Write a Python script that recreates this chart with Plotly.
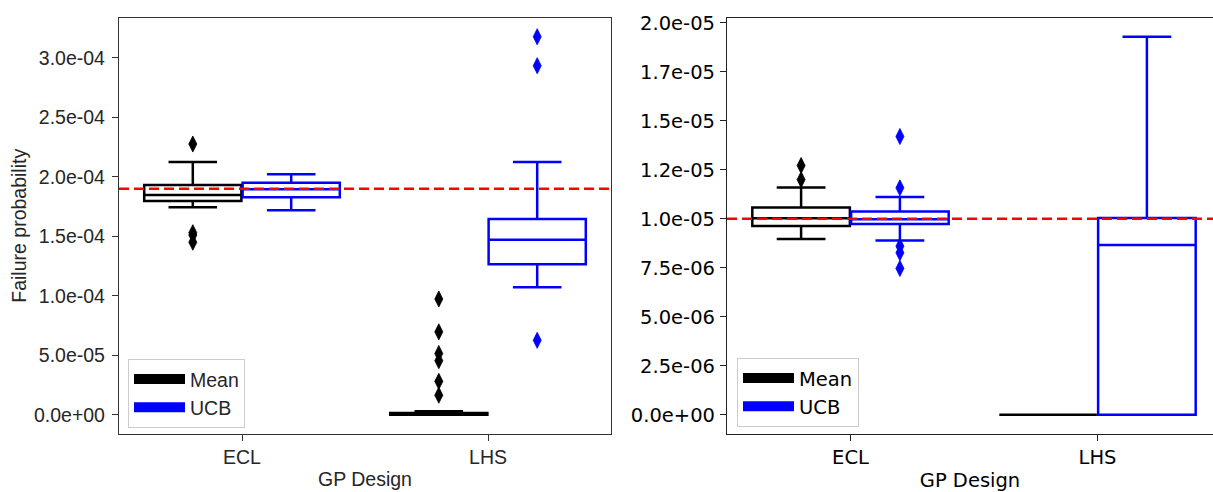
import plotly.graph_objects as go

# ---------------- data ----------------
designs = ["ECL", "LHS"]
methods = ["Mean", "UCB"]

# Left panel (failure probability ~1.9e-4)
left_mean_q1 = [1.797e-4, 0.0]
left_mean_median = [1.847e-4, 3.0e-7]
left_mean_q3 = [1.930e-4, 1.6e-6]
left_mean_lower = [1.743e-4, 0.0]
left_mean_upper = [2.123e-4, 2.9e-6]
left_mean_out_ecl = [2.275e-4, 1.530e-4, 1.510e-4, 1.450e-4]
left_mean_out_lhs = [9.73e-5, 6.97e-5, 5.15e-5, 4.55e-5, 2.81e-5, 1.65e-5]

left_ucb_q1 = [1.828e-4, 1.265e-4]
left_ucb_median = [1.896e-4, 1.470e-4]
left_ucb_q3 = [1.949e-4, 1.646e-4]
left_ucb_lower = [1.718e-4, 1.072e-4]
left_ucb_upper = [2.020e-4, 2.123e-4]
left_ucb_out_ecl = []
left_ucb_out_lhs = [3.176e-4, 2.933e-4, 6.26e-5]

left_ref = 1.9e-4
left_ticks = [0.0, 5e-5, 1e-4, 1.5e-4, 2e-4, 2.5e-4, 3e-4]
left_ticktext = ["0.0e+00", "5.0e-05", "1.0e-04", "1.5e-04", "2.0e-04", "2.5e-04", "3.0e-04"]

# Right panel (failure probability ~1e-5)
right_mean_q1 = [9.64e-6, 0.0]
right_mean_median = [1.003e-5, 0.0]
right_mean_q3 = [1.058e-5, 0.0]
right_mean_lower = [8.97e-6, 0.0]
right_mean_upper = [1.160e-5, 0.0]
right_mean_out_ecl = [1.272e-5, 1.200e-5]
right_mean_out_lhs = []

right_ucb_q1 = [9.74e-6, 0.0]
right_ucb_median = [9.98e-6, 8.67e-6]
right_ucb_q3 = [1.037e-5, 1.004e-5]
right_ucb_lower = [8.90e-6, 0.0]
right_ucb_upper = [1.112e-5, 1.929e-5]
right_ucb_out_ecl = [1.420e-5, 1.158e-5, 8.60e-6, 8.27e-6, 7.47e-6]
right_ucb_out_lhs = []

right_ref = 1.0e-5
right_ticks = [0.0, 2.5e-6, 5e-6, 7.5e-6, 1e-5, 1.25e-5, 1.5e-5, 1.75e-5, 2e-5]
right_ticktext = ["0.0e+00", "2.5e-06", "5.0e-06", "7.5e-06", "1.0e-05",
                  "1.2e-05", "1.5e-05", "1.7e-05", "2.0e-05"]

# ---------------- styling ----------------
colors = {"Mean": "#000000", "UCB": "#0000ff"}
offsets = {"Mean": -0.2, "UCB": 0.2}
BOX_W = 0.395
LW = 2.5
FS = 19.5

fig = go.Figure()

panels = [
    ("x", "y", "legend", {
        "Mean": (left_mean_q1, left_mean_median, left_mean_q3, left_mean_lower, left_mean_upper,
                 [left_mean_out_ecl, left_mean_out_lhs]),
        "UCB": (left_ucb_q1, left_ucb_median, left_ucb_q3, left_ucb_lower, left_ucb_upper,
                [left_ucb_out_ecl, left_ucb_out_lhs]),
    }),
    ("x2", "y2", "legend2", {
        "Mean": (right_mean_q1, right_mean_median, right_mean_q3, right_mean_lower, right_mean_upper,
                 [right_mean_out_ecl, right_mean_out_lhs]),
        "UCB": (right_ucb_q1, right_ucb_median, right_ucb_q3, right_ucb_lower, right_ucb_upper,
                [right_ucb_out_ecl, right_ucb_out_lhs]),
    }),
]

for xa, ya, lg, stats in panels:
    for m in methods:
        q1, med, q3, lo, hi, outs = stats[m]
        pos = [i + offsets[m] for i in range(len(designs))]
        fig.add_trace(go.Box(
            x=pos, q1=q1, median=med, q3=q3, lowerfence=lo, upperfence=hi,
            width=BOX_W, whiskerwidth=0.5, boxpoints=False,
            line=dict(color=colors[m], width=LW), fillcolor="rgba(255,255,255,0)",
            xaxis=xa, yaxis=ya, showlegend=False, hoverinfo="skip",
        ))
        ox, oy = [], []
        for i, vals in enumerate(outs):
            for v in vals:
                ox.append(i + offsets[m])
                oy.append(v)
        fig.add_trace(go.Scatter(
            x=ox, y=oy, mode="markers",
            marker=dict(symbol="diamond-tall", size=11.5, color=colors[m],
                        line=dict(width=0.8, color=colors[m])),
            xaxis=xa, yaxis=ya, showlegend=False, hoverinfo="skip",
        ))
        # legend entry
        fig.add_trace(go.Scatter(
            x=[None], y=[None], mode="lines", name=m,
            line=dict(color=colors[m], width=15),
            xaxis=xa, yaxis=ya, showlegend=True, legend=lg,
        ))

W, H = 1213, 492
y_dom = [1 - 433 / H, 1 - 12 / H]
left_font = "Liberation Sans, Arial, sans-serif"
right_font = "DejaVu Sans, sans-serif"
axcol = "#333333"

fig.update_layout(
    width=W, height=H, autosize=False,
    margin=dict(l=0, r=0, t=0, b=0, pad=0),
    paper_bgcolor="white", plot_bgcolor="white",
    xaxis=dict(domain=[119 / W, 611 / W], range=[-0.5, 1.5], anchor="y",
               tickvals=list(range(len(designs))), ticktext=designs,
               ticks="outside", ticklen=6, tickwidth=1.25, tickcolor=axcol,
               showline=True, linecolor=axcol, linewidth=1.25, mirror=True,
               showgrid=False, zeroline=False,
               tickfont=dict(family=left_font, size=FS, color="#262626"),
               title=dict(text="GP Design", standoff=5,
                          font=dict(family=left_font, size=FS, color="#262626"))),
    yaxis=dict(domain=y_dom, range=[-1.588e-5, 3.335e-4], anchor="x",
               tickvals=left_ticks, ticktext=left_ticktext,
               ticks="outside", ticklen=6, tickwidth=1.25, tickcolor=axcol,
               ticklabelstandoff=3,
               showline=True, linecolor=axcol, linewidth=1.25, mirror=True,
               showgrid=False, zeroline=False,
               tickfont=dict(family=left_font, size=FS, color="#262626"),
               title=dict(text="Failure probability", standoff=2,
                          font=dict(family=left_font, size=FS, color="#262626"))),
    xaxis2=dict(domain=[727 / W, 1.0], range=[-0.5, 1.5 - 8 / 247], anchor="y2",
                tickvals=list(range(len(designs))), ticktext=designs,
                ticks="outside", ticklen=6, tickwidth=1.25, tickcolor="#222222",
                showline=True, linecolor="#222222", linewidth=1.25, mirror=True,
                showgrid=False, zeroline=False,
                tickfont=dict(family=right_font, size=FS, color="black"),
                title=dict(text="GP Design", standoff=6,
                           font=dict(family=right_font, size=FS, color="black"))),
    yaxis2=dict(domain=y_dom, range=[-0.965e-6, 2.0255e-5], anchor="x2",
                tickvals=right_ticks, ticktext=right_ticktext,
                ticks="outside", ticklen=6, tickwidth=1.25, tickcolor="#222222",
                ticklabelstandoff=1,
                showline=True, linecolor="#222222", linewidth=1.25, mirror=False,
                showgrid=False, zeroline=False,
                tickfont=dict(family=right_font, size=FS, color="black")),
    legend=dict(x=128 / W, y=1 - 427 / H, xanchor="left", yanchor="bottom",
                bgcolor="white", bordercolor="#cccccc", borderwidth=1,
                itemwidth=51, tracegroupgap=0,
                font=dict(family=left_font, size=FS, color="#262626")),
    legend2=dict(x=737 / W, y=1 - 426 / H, xanchor="left", yanchor="bottom",
                 bgcolor="white", bordercolor="#cccccc", borderwidth=1,
                 itemwidth=51, tracegroupgap=0,
                 font=dict(family=right_font, size=FS, color="black")),
    shapes=[
        dict(type="line", xref="x domain", x0=0, x1=1, yref="y", y0=left_ref, y1=left_ref,
             line=dict(color="#ff0000", width=2.5, dash="10px,5px"), layer="above"),
        dict(type="line", xref="x2 domain", x0=0, x1=1, yref="y2", y0=right_ref, y1=right_ref,
             line=dict(color="#ff0000", width=2.5, dash="10px,5px"), layer="above"),
    ],
)

fig.write_html("out.html")
